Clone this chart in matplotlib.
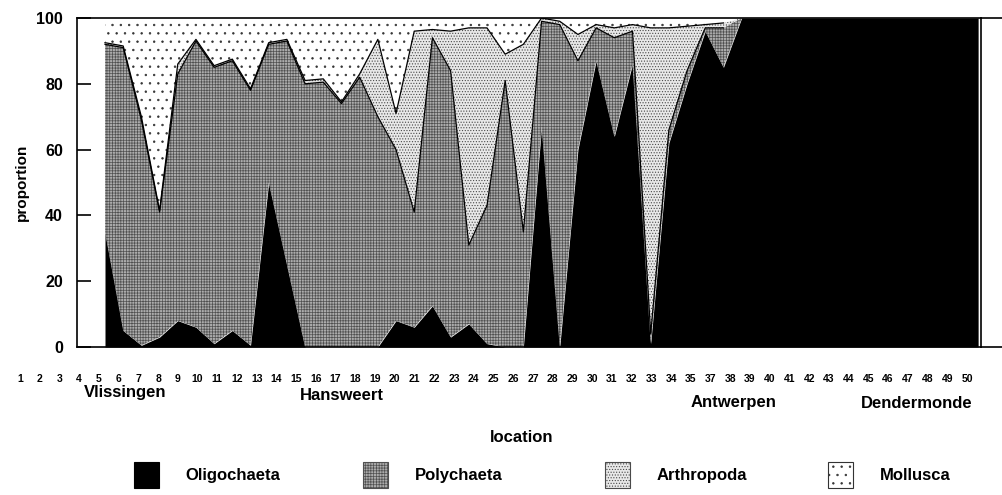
import numpy as np
import matplotlib.pyplot as plt
from matplotlib.patches import Patch
from matplotlib.lines import Line2D

plt.rcParams['font.family'] = ['Liberation Sans', 'DejaVu Sans']
plt.rcParams['font.weight'] = 'bold'
plt.rcParams['hatch.linewidth'] = 0.5

# sampling stations along the estuary (no station 36)
locations = list(range(1, 36)) + list(range(37, 51))

# proportion (%) of each group per station
oligochaeta = [35, 5, 0.5, 3, 8, 6, 1, 5, 0.5, 50,
               25, 0, 0, 0, 0, 0, 8, 6, 12.5, 3,
               7, 1, 0, 0, 67, 0, 60, 87, 64, 86,
               1, 62, 80, 96, 85] + [100] * 14
polychaeta = [57, 86, 68.5, 38, 75, 87, 84, 82, 77.5, 42,
              68, 80, 80.5, 74, 82, 70, 52, 35, 81.5, 81,
              24, 42, 81, 35, 32, 98, 27, 10, 30, 10,
              3, 4, 4, 1, 12] + [0] * 14
arthropoda = [0.5, 0.5, 1, 0.5, 3, 0.5, 0.5, 0.5, 0.5, 0.5,
              0.5, 1, 1, 0.5, 1, 23.5, 11, 55, 2.5, 12,
              66, 54, 8, 57, 1, 1, 8, 1, 3, 2,
              93, 31, 13.5, 1, 1.5] + [0] * 14
mollusca = [7.5, 8.5, 30, 58.5, 14, 6.5, 14.5, 12.5, 21.5, 7.5,
            6.5, 19, 18.5, 25.5, 17, 6.5, 29, 4, 3.5, 4,
            3, 3, 11, 8, 0, 1, 5, 2, 3, 2,
            3, 3, 2.5, 2, 1.5] + [0] * 14

groups = ['Oligochaeta', 'Polychaeta', 'Arthropoda', 'Mollusca']
places = ['Vlissingen', 'Hansweert', 'Antwerpen', 'Dendermonde']

faces = ['black', '#acacac', '#e8e8e8', 'white']
hatch_cols = ['black', '#505050', '#4a4a4a', '#333333']
hatches = [None, '++++++', '......', '..']

x = np.arange(len(locations))
layers = np.vstack([oligochaeta, polychaeta, arthropoda, mollusca])
tops = np.cumsum(layers, axis=0)
bottoms = np.vstack([np.zeros(len(x)), tops[:-1]])

W, H = 1003, 495
fig = plt.figure(figsize=(W / 100, H / 100), dpi=100)
ax = fig.add_axes([77 / W, 1 - 347 / H, (981 - 77) / W, (347 - 18) / H])

for i in range(4):
    ax.fill_between(x, bottoms[i], tops[i], facecolor=faces[i],
                    edgecolor=hatch_cols[i], hatch=hatches[i], linewidth=0)
# outlines of polychaeta and arthropoda tops
ax.plot(x[:35], tops[1][:35], color='black', lw=0.9)
ax.plot(x[:35], tops[2][:35], color='black', lw=0.9)

ax.set_xlim(-(105 - 77) / 18.19, (981 - 105) / 18.19)
ax.set_ylim(0, 100)
ax.set_xticks([])
ax.set_yticks([0, 20, 40, 60, 80, 100])
ax.tick_params(axis='y', direction='in', length=10, width=1.2, labelsize=11.5, pad=10)
for s in ax.spines.values():
    s.set_linewidth(1.2)
ax.set_ylabel('proportion', fontsize=11, fontweight='bold', labelpad=5)

# frame lines run on past the right edge
for yy in (0, 1):
    ax.add_line(Line2D([1, (1003 - 77) / (981 - 77)], [yy, yy], transform=ax.transAxes,
                       color='black', lw=1.2, clip_on=False))

# station numbers row
ax_lab = fig.add_axes([20 / W, 1 - 374 / H, (967 - 20) / W, 0.001])
ax_lab.set_xlim(0, len(locations) - 1)
ax_lab.set_xticks(x)
ax_lab.set_xticklabels([str(l) for l in locations], fontsize=7.5, fontweight='bold')
ax_lab.tick_params(axis='x', length=0, pad=0)
ax_lab.set_yticks([])
for s in ax_lab.spines.values():
    s.set_visible(False)
ax_lab.patch.set_visible(False)

place_pos = [(125, 393), (342, 396), (734, 402), (917, 403)]
for name, (px, py) in zip(places, place_pos):
    fig.text(px / W, 1 - py / H, name, ha='center', va='center', fontsize=12, fontweight='bold')
fig.text(522 / W, 1 - 437 / H, 'location', ha='center', va='center', fontsize=12, fontweight='bold')

# legend, one entry per box
box_x = [134, 363, 605, 828]
for i, g in enumerate(groups):
    h = Patch(facecolor=faces[i], edgecolor=hatch_cols[i] if i else 'black',
              hatch=hatches[i], linewidth=0.8)
    fig.legend([h], [g], loc='center left', bbox_to_anchor=(box_x[i] / W, 1 - 475 / H),
               frameon=False, fontsize=12, handlelength=1.5, handleheight=2.0,
               handletextpad=1.6, borderpad=0, borderaxespad=0)

fig.savefig('out.png', dpi=100)
